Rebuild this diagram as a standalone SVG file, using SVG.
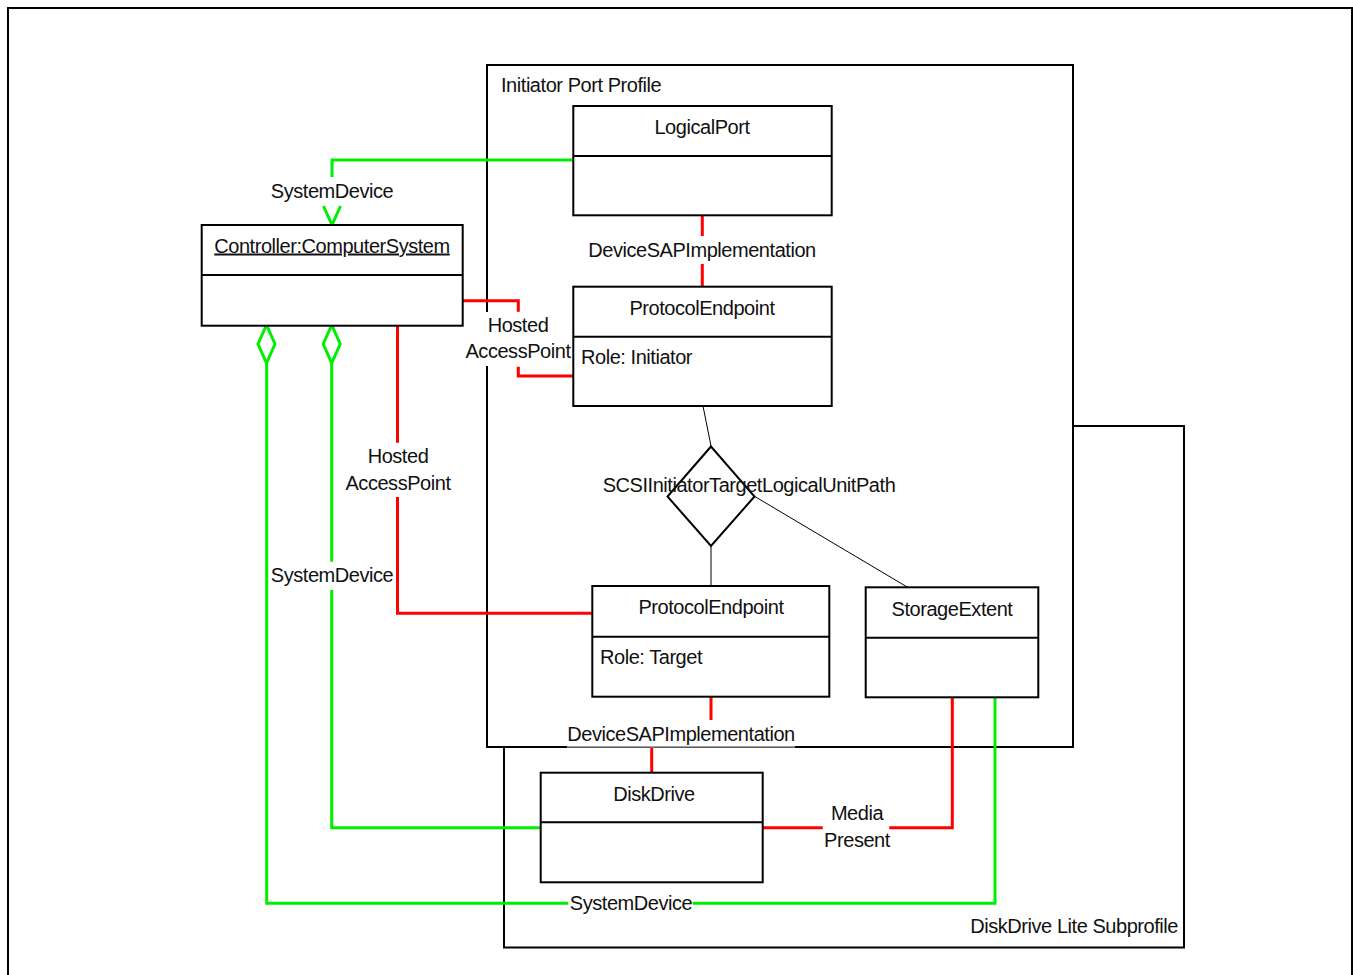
<svg xmlns="http://www.w3.org/2000/svg" width="1353" height="975" viewBox="0 0 1353 975">
<style>
text{font-family:"Liberation Sans",Arial,sans-serif;font-size:20px;letter-spacing:-0.45px;fill:#111}
.m{text-anchor:middle}
.e{text-anchor:end}
.box{fill:#fff;stroke:#000;stroke-width:2}
.frame{fill:none;stroke:#000;stroke-width:2}
.g{fill:none;stroke:#00ee00;stroke-width:3}
.r{fill:none;stroke:#ff0000;stroke-width:3}
.k{fill:none;stroke:#000;stroke-width:1}
.bg{fill:#fff;stroke:none}
</style>
<rect x="0" y="0" width="1353" height="975" fill="#fff"/>
<rect x="8" y="8" width="1344" height="980" class="frame"/>

<g id="diskdrive-lite-subprofile">
<rect x="504" y="426" width="680" height="521.5" class="frame"/>
<text x="1178" y="933" class="e">DiskDrive Lite Subprofile</text>
</g>
<g id="initiator-port-profile">
<rect x="487" y="65" width="586" height="682" fill="#fff" stroke="#000" stroke-width="2"/>
<text x="501" y="92">Initiator Port Profile</text>
</g>

<g id="connectors">
<!-- SystemDevice top -->
<path class="g" d="M573,160 H332 V177"/>
<path class="g" d="M323.5,206 L332,225 L340.5,206"/>
<rect class="bg" x="270" y="178" width="124" height="26"/>
<text x="332" y="198" class="m">SystemDevice</text>
<!-- DeviceSAPImplementation top -->
<path class="r" d="M702.3,215 V236 M702.3,264 V287"/>
<text x="702" y="257" class="m">DeviceSAPImplementation</text>
<!-- Hosted AccessPoint upper -->
<path class="r" d="M463,300.7 H518.3 V311.7 M518.3,366.7 V376 H573"/>
<rect class="bg" x="465" y="312" width="106" height="54"/>
<text x="518" y="331.5" class="m">Hosted</text>
<text x="518" y="357.5" class="m">AccessPoint</text>
<!-- SCSI path -->
<path class="k" d="M703,406 L711,446 M711,546 V586.5 M754,496 L908,587.5"/>
<polygon points="711,446.5 667.5,496.5 711,546 754.5,496.5" fill="none" stroke="#000" stroke-width="2"/>
<text x="749" y="492" class="m">SCSIInitiatorTargetLogicalUnitPath</text>
<!-- Hosted AccessPoint lower -->
<path class="r" d="M397.5,325 V442.7 M397.5,497 V613.3 H593"/>
<text x="398" y="462.7" class="m">Hosted</text>
<text x="398" y="490" class="m">AccessPoint</text>
<!-- SystemDevice middle -->
<path class="g" d="M541,827.7 H331.7 V590 M331.7,561.7 V363"/>
<text x="332" y="582" class="m">SystemDevice</text>
<!-- SystemDevice bottom -->
<path class="g" d="M995,697.5 V903.3 H692.7 M568.3,903.3 H266.7 V363"/>
<text x="631" y="909.5" class="m">SystemDevice</text>
<!-- diamonds -->
<polygon points="266.5,325 258,344 266.5,363 275,344" fill="#fff" stroke="#00ee00" stroke-width="3"/>
<polygon points="331.7,325 323.2,344 331.7,363 340.2,344" fill="#fff" stroke="#00ee00" stroke-width="3"/>
<!-- DeviceSAPImplementation bottom -->
<path class="r" d="M711,697 V720.7 M651.7,747.5 V772.7"/>
<rect class="bg" x="567" y="720" width="228" height="26.5"/>
<line x1="567" y1="747" x2="795" y2="747" stroke="#bdbdbd" stroke-width="1"/>
<text x="681" y="740.7" class="m">DeviceSAPImplementation</text>
<!-- MediaPresent -->
<path class="r" d="M763,827.7 H822.7 M889.3,827.7 H952.3 V697.5"/>
<text x="857" y="820" class="m">Media</text>
<text x="857" y="847" class="m">Present</text>
</g>

<g id="controller">
<rect x="201.7" y="225" width="261" height="100.7" class="box"/>
<line x1="201.7" y1="275" x2="462.7" y2="275" stroke="#000" stroke-width="2"/>
<text x="332" y="252.5" class="m" text-decoration="underline">Controller:ComputerSystem</text>
</g>
<g id="logicalport">
<rect x="573.3" y="106" width="258.4" height="109.3" class="box"/>
<line x1="573.3" y1="156" x2="831.7" y2="156" stroke="#000" stroke-width="2"/>
<text x="702" y="134" class="m">LogicalPort</text>
</g>
<g id="pe-initiator">
<rect x="573.3" y="286.7" width="258.4" height="119.3" class="box"/>
<line x1="573.3" y1="336.7" x2="831.7" y2="336.7" stroke="#000" stroke-width="2"/>
<text x="702" y="314.5" class="m">ProtocolEndpoint</text>
<text x="581" y="364">Role: Initiator</text>
</g>
<g id="pe-target">
<rect x="592.3" y="586" width="237" height="110.7" class="box"/>
<line x1="592.3" y1="636.7" x2="829.3" y2="636.7" stroke="#000" stroke-width="2"/>
<text x="711" y="614" class="m">ProtocolEndpoint</text>
<text x="600" y="664">Role: Target</text>
</g>
<g id="storageextent">
<rect x="865.7" y="587.3" width="172.6" height="110" class="box"/>
<line x1="865.7" y1="637.7" x2="1038.3" y2="637.7" stroke="#000" stroke-width="2"/>
<text x="952" y="616" class="m">StorageExtent</text>
</g>
<g id="diskdrive">
<rect x="540.7" y="772.7" width="222" height="109.6" class="box"/>
<line x1="540.7" y1="822.3" x2="762.7" y2="822.3" stroke="#000" stroke-width="2"/>
<text x="654" y="800.7" class="m">DiskDrive</text>
</g>
</svg>
